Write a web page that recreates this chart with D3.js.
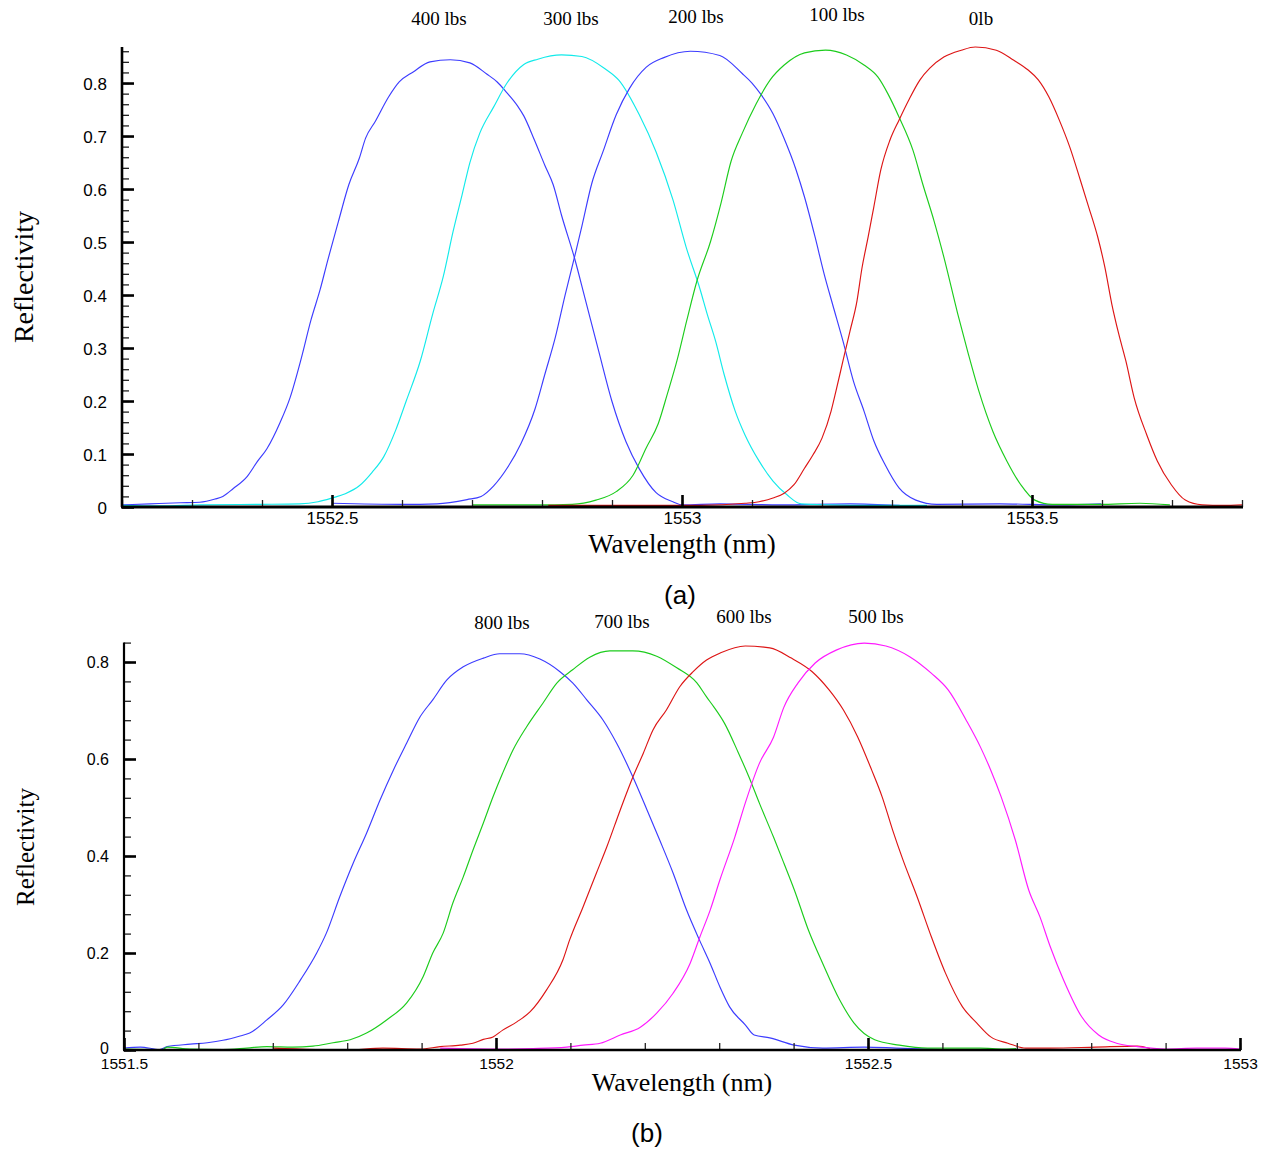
<!DOCTYPE html>
<html>
<head>
<meta charset="utf-8">
<script src="https://cdnjs.cloudflare.com/ajax/libs/d3/7.8.5/d3.min.js"></script>
<style>
  body { margin: 0; background: #fff; }
  svg { display: block; }
  .tick text { font-family: "Liberation Sans", Arial, sans-serif; fill: #000; }
  .ttl { font-family: "Liberation Serif", "Times New Roman", serif; fill: #000; }
  .cap { font-family: "Liberation Sans", Arial, sans-serif; fill: #000; }
</style>
</head>
<body>
<div id="chart"></div>
<script>
// ---- panel (a): wavelength (nm) / reflectivity ----
var wlA400 = [1552.200,1552.240,1552.283,1552.311,1552.333,1552.344,1552.359,1552.379,1552.393,1552.407,1552.426,1552.440,1552.456,1552.470,1552.483,1552.494,1552.509,1552.524,1552.539,1552.548,1552.562,1552.581,1552.596,1552.616,1552.640,1552.669,1552.697,1552.721,1552.736,1552.749,1552.765,1552.774,1552.789,1552.804,1552.816,1552.828,1552.847,1552.861,1552.881,1552.900,1552.920,1552.939,1552.963,1552.987,1553.001,1553.054,1553.140,1553.240,1553.311];
var rA400 = [0.004,0.006,0.008,0.009,0.015,0.020,0.035,0.058,0.085,0.110,0.160,0.206,0.280,0.353,0.410,0.466,0.538,0.608,0.658,0.696,0.728,0.774,0.802,0.821,0.840,0.844,0.838,0.817,0.802,0.783,0.757,0.738,0.693,0.645,0.608,0.550,0.467,0.396,0.294,0.199,0.123,0.072,0.027,0.010,0.004,0.006,0.004,0.006,0.003];

var wlA300 = [1552.200,1552.254,1552.311,1552.399,1552.454,1552.480,1552.500,1552.519,1552.539,1552.557,1552.574,1552.591,1552.606,1552.626,1552.644,1552.659,1552.673,1552.686,1552.697,1552.711,1552.731,1552.750,1552.774,1552.794,1552.828,1552.857,1552.890,1552.910,1552.939,1552.963,1552.987,1553.006,1553.026,1553.036,1553.048,1553.060,1553.076,1553.090,1553.110,1553.130,1553.150,1553.170,1553.211,1553.269,1553.350];
var rA300 = [0.003,0.002,0.004,0.005,0.006,0.010,0.017,0.025,0.040,0.065,0.095,0.145,0.200,0.275,0.365,0.435,0.520,0.590,0.650,0.705,0.755,0.800,0.835,0.845,0.853,0.850,0.827,0.805,0.740,0.670,0.580,0.490,0.410,0.364,0.313,0.251,0.181,0.136,0.087,0.049,0.023,0.006,0.004,0.003,0.003];

var wlA200 = [1552.500,1552.601,1552.650,1552.693,1552.713,1552.731,1552.751,1552.770,1552.790,1552.804,1552.819,1552.833,1552.848,1552.857,1552.871,1552.887,1552.906,1552.925,1552.949,1552.974,1553.012,1553.054,1553.086,1553.100,1553.113,1553.130,1553.145,1553.163,1553.175,1553.190,1553.203,1553.215,1553.230,1553.245,1553.260,1553.274,1553.290,1553.310,1553.334,1553.364,1553.454,1553.540,1553.599];
var rA200 = [0.007,0.005,0.006,0.014,0.020,0.040,0.075,0.120,0.185,0.250,0.320,0.400,0.480,0.530,0.610,0.670,0.740,0.790,0.830,0.848,0.860,0.852,0.818,0.800,0.778,0.742,0.698,0.636,0.585,0.510,0.440,0.383,0.313,0.237,0.181,0.125,0.080,0.036,0.013,0.005,0.006,0.004,0.006];

var wlA100 = [1552.700,1552.794,1552.843,1552.877,1552.906,1552.930,1552.949,1552.966,1552.979,1552.993,1553.007,1553.021,1553.041,1553.056,1553.070,1553.086,1553.106,1553.126,1553.146,1553.175,1553.205,1553.235,1553.260,1553.280,1553.294,1553.310,1553.330,1553.344,1553.360,1553.374,1553.394,1553.409,1553.424,1553.444,1553.464,1553.484,1553.504,1553.529,1553.597,1553.654,1553.697];
var rA100 = [0.004,0.004,0.005,0.013,0.029,0.060,0.112,0.157,0.213,0.277,0.353,0.425,0.502,0.575,0.652,0.705,0.761,0.806,0.834,0.857,0.862,0.853,0.834,0.811,0.780,0.736,0.673,0.609,0.540,0.472,0.364,0.289,0.219,0.143,0.087,0.042,0.013,0.005,0.005,0.007,0.004];

var wlA0 = [1552.809,1553.026,1553.090,1553.110,1553.130,1553.146,1553.160,1553.175,1553.187,1553.200,1553.213,1553.220,1553.230,1553.240,1553.250,1553.257,1553.266,1553.274,1553.284,1553.297,1553.310,1553.324,1553.340,1553.354,1553.374,1553.399,1553.419,1553.449,1553.474,1553.494,1553.509,1553.524,1553.539,1553.554,1553.569,1553.581,1553.594,1553.604,1553.614,1553.624,1553.634,1553.646,1553.664,1553.679,1553.699,1553.719,1553.743,1553.773,1553.800];
var rA0 = [0.003,0.003,0.007,0.010,0.017,0.026,0.042,0.073,0.098,0.130,0.181,0.219,0.276,0.332,0.389,0.450,0.510,0.566,0.636,0.692,0.730,0.768,0.806,0.828,0.849,0.862,0.868,0.862,0.843,0.825,0.806,0.774,0.730,0.679,0.617,0.566,0.509,0.453,0.383,0.326,0.276,0.206,0.136,0.087,0.042,0.013,0.004,0.003,0.004];

// ---- panel (b) ----
var wlB800 = [1551.500,1551.522,1551.548,1551.558,1551.589,1551.612,1551.633,1551.656,1551.669,1551.692,1551.714,1551.737,1551.759,1551.772,1551.790,1551.808,1551.826,1551.844,1551.862,1551.880,1551.898,1551.915,1551.934,1551.956,1551.983,1552.005,1552.032,1552.059,1552.086,1552.103,1552.122,1552.144,1552.162,1552.184,1552.203,1552.220,1552.238,1552.256,1552.274,1552.288,1552.301,1552.314,1552.335,1552.347,1552.368,1552.401,1552.439,1552.495,1552.538,1552.598];
var rB800 = [0.004,0.006,0.001,0.007,0.012,0.015,0.020,0.029,0.035,0.062,0.093,0.144,0.200,0.241,0.316,0.385,0.447,0.515,0.577,0.633,0.687,0.722,0.763,0.790,0.808,0.817,0.817,0.806,0.780,0.757,0.722,0.680,0.633,0.563,0.495,0.433,0.365,0.289,0.225,0.178,0.130,0.089,0.052,0.031,0.025,0.010,0.004,0.006,0.004,0.001];

var wlB700 = [1551.500,1551.552,1551.558,1551.589,1551.633,1551.665,1551.692,1551.727,1551.754,1551.781,1551.804,1551.826,1551.853,1551.880,1551.902,1551.915,1551.929,1551.942,1551.956,1551.969,1551.983,1551.996,1552.009,1552.023,1552.041,1552.063,1552.082,1552.103,1552.126,1552.153,1552.184,1552.216,1552.243,1552.270,1552.283,1552.293,1552.307,1552.326,1552.340,1552.354,1552.373,1552.387,1552.401,1552.420,1552.439,1552.462,1552.481,1552.509,1552.542,1552.580,1552.651,1552.683,1552.699];
var rB700 = [0.002,0.001,0.006,0.002,0.001,0.004,0.007,0.006,0.008,0.015,0.021,0.035,0.062,0.097,0.151,0.200,0.241,0.303,0.357,0.412,0.468,0.522,0.571,0.619,0.666,0.715,0.757,0.784,0.810,0.823,0.823,0.812,0.788,0.757,0.728,0.707,0.674,0.612,0.563,0.509,0.439,0.385,0.330,0.247,0.179,0.103,0.056,0.021,0.010,0.004,0.004,0.002,0.003];

var wlB600 = [1551.700,1551.799,1551.848,1551.898,1551.925,1551.952,1551.969,1551.983,1551.996,1552.009,1552.028,1552.046,1552.068,1552.090,1552.099,1552.117,1552.135,1552.149,1552.167,1552.184,1552.198,1552.211,1552.229,1552.247,1552.265,1552.283,1552.302,1552.335,1552.368,1552.397,1552.425,1552.448,1552.467,1552.486,1552.505,1552.519,1552.533,1552.547,1552.566,1552.585,1552.604,1552.627,1552.646,1552.665,1552.688,1552.712,1552.745,1552.806,1552.862,1552.879];
var rB600 = [0.004,0.000,0.004,0.002,0.007,0.010,0.014,0.022,0.027,0.041,0.058,0.079,0.124,0.186,0.227,0.295,0.365,0.419,0.495,0.563,0.612,0.660,0.701,0.749,0.780,0.804,0.819,0.833,0.829,0.808,0.780,0.742,0.701,0.646,0.577,0.522,0.454,0.392,0.316,0.234,0.159,0.089,0.056,0.027,0.014,0.004,0.004,0.006,0.008,0.003];

var wlB500 = [1551.925,1552.005,1552.050,1552.095,1552.117,1552.140,1552.167,1552.194,1552.216,1552.238,1552.261,1552.274,1552.288,1552.301,1552.321,1552.335,1552.354,1552.373,1552.387,1552.406,1552.429,1552.458,1552.495,1552.524,1552.556,1552.585,1552.608,1552.632,1552.651,1552.665,1552.679,1552.698,1552.716,1552.731,1552.745,1552.763,1552.787,1552.810,1552.834,1552.862,1552.900,1552.942,1552.980,1553.000];
var rB500 = [0.004,0.002,0.003,0.006,0.010,0.014,0.031,0.047,0.076,0.117,0.179,0.233,0.289,0.351,0.439,0.509,0.591,0.645,0.707,0.757,0.798,0.825,0.839,0.833,0.811,0.777,0.742,0.680,0.625,0.577,0.522,0.433,0.330,0.275,0.213,0.144,0.069,0.031,0.014,0.007,0.002,0.004,0.004,0.002];

// tick labels / curve labels
var xTicksA = [1552.5, 1553, 1553.5];
var yTicksA = [0, 0.1, 0.2, 0.3, 0.4, 0.5, 0.6, 0.7, 0.8];
var xTicksB = [1551.5, 1552, 1552.5, 1553];
var yTicksB = [0, 0.2, 0.4, 0.6, 0.8];
var loadsA = ["400 lbs", "300 lbs", "200 lbs", "100 lbs", "0lb"];
var loadsB = ["800 lbs", "700 lbs", "600 lbs", "500 lbs"];

var W = 1269, H = 1153;
var svg = d3.select("#chart").append("svg").attr("width", W).attr("height", H);

function panel(p) {
  var xx = d3.scaleLinear().domain(p.xDomain).range(p.xRange);
  var yy = d3.scaleLinear().domain(p.yDomain).range(p.yRange);
  var g = svg.append("g");
  var line = d3.line()
    .curve(d3.curveMonotoneX)
    .x(function(d) { return xx(d[0]); })
    .y(function(d) { return yy(d[1]); });

  p.series.forEach(function(s) {
    g.append("path")
      .datum(d3.zip(s.wl, s.r))
      .attr("fill", "none")
      .attr("stroke", s.color)
      .attr("stroke-width", 1.15)
      .attr("stroke-linejoin", "round")
      .attr("d", line);
  });

  var x0 = p.xRange[0], y0 = p.yRange[0];

  // minor ticks (inside)
  g.append("g").attr("transform", "translate(" + x0 + ",0)")
    .call(d3.axisLeft(yy).tickValues(p.yMinor).tickSize(-7).tickFormat(""))
    .call(function(a) { a.select(".domain").remove(); a.selectAll("line").attr("stroke", "#222").attr("stroke-width", 1.3); });
  g.append("g").attr("transform", "translate(0," + y0 + ")")
    .call(d3.axisBottom(xx).tickValues(p.xMinor).tickSize(-7).tickFormat(""))
    .call(function(a) { a.select(".domain").remove(); a.selectAll("line").attr("stroke", "#222").attr("stroke-width", 1.3); });

  // major ticks + labels
  g.append("g").attr("transform", "translate(" + x0 + ",0)")
    .call(d3.axisLeft(yy).tickValues(p.yTicks).tickSize(-12).tickPadding(15)
      .tickFormat(function(d) { return d === 0 ? "0" : d.toFixed(1); }))
    .call(function(a) {
      a.select(".domain").remove();
      a.selectAll("line").attr("stroke", "#000").attr("stroke-width", 2.6);
      a.selectAll("text").style("font-size", p.tickFont + "px")
        .attr("dy", function(d) { return d === 0 ? p.zeroDy : "0.36em"; });
    });
  g.append("g").attr("transform", "translate(0," + y0 + ")")
    .call(d3.axisBottom(xx).tickValues(p.xTicks).tickSize(-12).tickPadding(p.xPad)
      .tickFormat(function(d) { return String(d); }))
    .call(function(a) {
      a.select(".domain").remove();
      a.selectAll("line").attr("stroke", "#000").attr("stroke-width", 2.6);
      a.selectAll("text").style("font-size", p.xTickFont + "px");
    });

  // axis lines
  g.append("line").attr("x1", x0).attr("x2", x0)
    .attr("y1", y0).attr("y2", yy(p.yDomain[1]))
    .attr("stroke", "#000").attr("stroke-width", p.axisW);
  g.append("line").attr("x1", x0 - 1).attr("x2", p.xRange[1] + 1)
    .attr("y1", y0).attr("y2", y0)
    .attr("stroke", "#000").attr("stroke-width", p.axisW + 0.5);

  // titles
  g.append("text").attr("class", "ttl")
    .attr("x", p.xTitle[0]).attr("y", p.xTitle[1])
    .attr("text-anchor", "middle").style("font-size", p.titleFont + "px")
    .text("Wavelength (nm)");
  g.append("text").attr("class", "ttl")
    .attr("transform", "translate(" + p.yTitle[0] + "," + p.yTitle[1] + ") rotate(-90)")
    .attr("text-anchor", "middle").style("font-size", p.yTitleFont + "px")
    .text("Reflectivity");

  // curve labels
  p.labels.forEach(function(t, i) {
    g.append("text").attr("class", "ttl")
      .attr("x", p.labelPos[i][0]).attr("y", p.labelPos[i][1])
      .attr("text-anchor", "middle").style("font-size", "19px")
      .text(t);
  });

  g.append("text").attr("class", "cap")
    .attr("x", p.cap[0]).attr("y", p.cap[1])
    .attr("text-anchor", "middle").style("font-size", "26px")
    .text(p.capText);
}

panel({
  xDomain: [1552.2, 1553.8], xRange: [122, 1242],
  yDomain: [0, 0.868], yRange: [507, 47],
  xTicks: xTicksA, yTicks: yTicksA,
  xMinor: d3.range(15522, 15539, 1).map(function(v) { return v / 10; }),
  yMinor: d3.range(0, 44, 1).map(function(v) { return v / 50; }),
  tickFont: 17, xTickFont: 17, xPad: 5, axisW: 2.6, zeroDy: "0.36em",
  series: [
    {wl: wlA400, r: rA400, color: "#3c3cff"},
    {wl: wlA300, r: rA300, color: "#12eaea"},
    {wl: wlA200, r: rA200, color: "#3c3cff"},
    {wl: wlA100, r: rA100, color: "#1ccc1c"},
    {wl: wlA0, r: rA0, color: "#dd1515"}
  ],
  xTitle: [682, 553], titleFont: 27,
  yTitle: [33, 277], yTitleFont: 28,
  labels: loadsA,
  labelPos: [[439, 25], [571, 25], [696, 23], [837, 21], [981, 25]],
  cap: [680, 604], capText: "(a)"
});

panel({
  xDomain: [1551.5, 1553], xRange: [124, 1240],
  yDomain: [0, 0.84], yRange: [1050, 642.6],
  xTicks: xTicksB, yTicks: yTicksB,
  xMinor: d3.range(15515, 15531, 1).map(function(v) { return v / 10; }),
  yMinor: d3.range(0, 22, 1).map(function(v) { return v / 25; }),
  tickFont: 16, xTickFont: 15.5, xPad: 8, axisW: 2.2, zeroDy: "0.2em",
  series: [
    {wl: wlB800, r: rB800, color: "#3c3cff"},
    {wl: wlB700, r: rB700, color: "#1ccc1c"},
    {wl: wlB600, r: rB600, color: "#dd1515"},
    {wl: wlB500, r: rB500, color: "#ff1aff"}
  ],
  xTitle: [682, 1091], titleFont: 26,
  yTitle: [34, 847], yTitleFont: 25,
  labels: loadsB,
  labelPos: [[502, 629], [622, 628], [744, 623], [876, 623]],
  cap: [647, 1142], capText: "(b)"
});
</script>
</body>
</html>
